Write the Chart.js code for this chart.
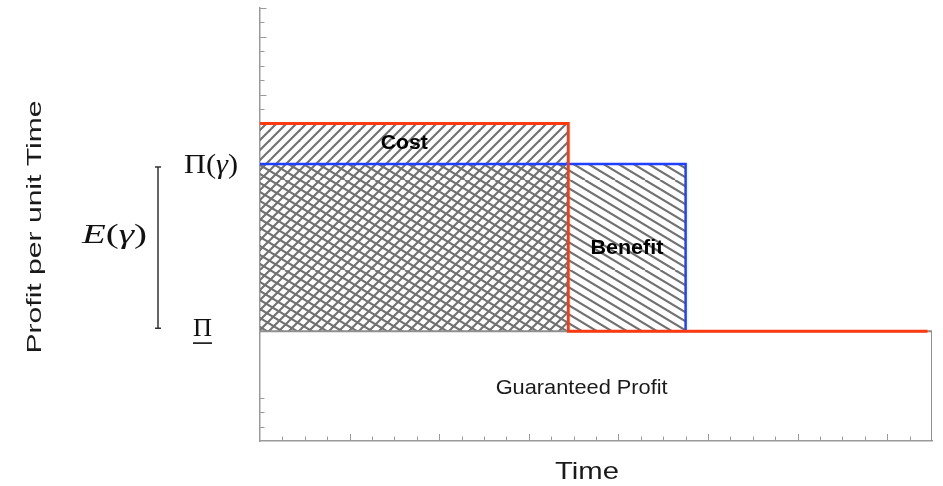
<!DOCTYPE html>
<html lang="en">
<head>
<meta charset="UTF-8">
<title>Cost and benefit</title>
<script src="https://cdn.jsdelivr.net/npm/chart.js"></script>
<style>
  html, body { margin: 0; padding: 0; background: #fff; }
  canvas { display: block; }
</style>
</head>
<body>
<canvas id="grafico" width="943" height="486"></canvas>

<script>
// step lines, x in time units (0..7.5), y in profit units (0..7.5)
var redX = [0, 3.44, 3.44, 7.45];
var redY = [5.5, 5.5, 1.9, 1.9];
var blueX = [0, 4.75, 4.75];
var blueY = [4.8, 4.8, 1.9];
var boxX = [0, 7.5, 7.5];
var boxY = [1.9, 1.9, 0];

// levels used by the hatched areas and labels
var costTop = 5.5;      // red level
var piGamma = 4.8;      // Π(γ)
var piFloor = 1.9;      // Π
var redDrop = 3.44;
var blueDrop = 4.75;
var guaranteedX = 3.59;
var costLabelX = 1.61;

var axisMax = 7.5;
// y ticks that show (the rest sit under the hatching / box)
var yTicksShown = [0.25, 0.5, 0.75, 5.75, 6, 6.25, 6.5, 6.75, 7, 7.25, 7.5];

function pts(xs, ys) {
    var out = [];
    for (var i = 0; i < xs.length; i++) out.push({ x: xs[i], y: ys[i] });
    return out;
}

// hatch tile w x h: families of parallel lines {p: horizontal period, s: slope, up: rising?}
function hatch(families, w, h) {
    var c = document.createElement('canvas');
    c.width = w; c.height = h;
    var g = c.getContext('2d');
    g.strokeStyle = '#717171';
    g.lineWidth = 2.1;
    families.forEach(function (f) {
        var run = h / f.s;
        for (var k = -40; k <= 40; k++) {
            var x0 = k * f.p;
            g.beginPath();
            if (f.up) {
                g.moveTo(x0, h);
                g.lineTo(x0 + run, 0);
            } else {
                g.moveTo(x0, 0);
                g.lineTo(x0 + run, h);
            }
            g.stroke();
        }
    });
    return g.createPattern(c, 'repeat');
}

var ctx = document.getElementById('grafico').getContext('2d');
var slash = { p: 10, s: 1, up: true };
var back = { p: 15, s: 0.6, up: false };
var padraoCusto = hatch([slash], 30, 90);
var padraoBeneficio = hatch([back], 30, 90);
var padraoCruzado = hatch([slash, back], 30, 90);

function drawFitted(c, segs, cx, baseline, targetW) {
    var total = 0;
    segs.forEach(function (s) { c.font = s.f; s.w = c.measureText(s.t).width; total += s.w; });
    var k = targetW ? targetW / total : 1;
    c.save();
    c.translate(cx, baseline);
    c.scale(k, 1);
    var x = -total / 2;
    segs.forEach(function (s) { c.font = s.f; c.fillText(s.t, x, 0); x += s.w; });
    c.restore();
}

var ticksPlugin = {
    id: 'ticksInside',
    afterDraw: function (chart) {
        var c = chart.ctx, xs = chart.scales.x, ys = chart.scales.y;
        var area = chart.chartArea;
        c.save();
        c.strokeStyle = '#9a9a9a';
        c.lineWidth = 1;
        xs.ticks.forEach(function (t) {
            if (t.value <= 0 || t.value >= axisMax) return;
            var px = Math.round(xs.getPixelForValue(t.value)) + 0.5;
            var len = (t.value % 1 === 0) ? 7 : 4.5;
            c.beginPath();
            c.moveTo(px, area.bottom);
            c.lineTo(px, area.bottom - len);
            c.stroke();
        });
        ys.ticks.forEach(function (t) {
            if (yTicksShown.indexOf(t.value) < 0) return;
            var py = Math.round(ys.getPixelForValue(t.value)) + 0.5;
            var len = (t.value % 1 === 0 || t.value === axisMax) ? 6.5 : 4.5;
            c.beginPath();
            c.moveTo(area.left, py);
            c.lineTo(area.left + len, py);
            c.stroke();
        });
        c.restore();
    }
};

var textPlugin = {
    id: 'labels',
    afterDraw: function (chart) {
        var c = chart.ctx, xs = chart.scales.x, ys = chart.scales.y;
        var sans = '"Liberation Sans", Arial, sans-serif';
        var serif = '"Liberation Serif", "DejaVu Serif", serif';
        c.save();
        c.textBaseline = 'alphabetic';

        // region labels
        c.fillStyle = '#000';
        var yCost = (ys.getPixelForValue(costTop) + ys.getPixelForValue(piGamma)) / 2;
        drawFitted(c, [{ t: 'Cost', f: 'bold 20px ' + sans }], xs.getPixelForValue(costLabelX), yCost + 5.5, 47);
        var yBen = (ys.getPixelForValue(piGamma) + ys.getPixelForValue(piFloor)) / 2;
        drawFitted(c, [{ t: 'Benefit', f: 'bold 21px ' + sans }], xs.getPixelForValue((redDrop + blueDrop) / 2), yBen + 6.5, 73);
        c.fillStyle = '#1a1a1a';
        var yGar = (ys.getPixelForValue(piFloor) + ys.getPixelForValue(0)) / 2;
        drawFitted(c, [{ t: 'Guaranteed Profit', f: '21px ' + sans }], xs.getPixelForValue(guaranteedX), yGar + 7.5, 172);

        // axis titles
        drawFitted(c, [{ t: 'Time', f: '24px ' + sans }], 587, 479, 64);
        c.save();
        c.translate(41, 227);
        c.rotate(-Math.PI / 2);
        drawFitted(c, [{ t: 'Profit per unit Time', f: '20px ' + sans }], 0, 0, 253);
        c.restore();

        // level labels
        c.fillStyle = '#111';
        var yG = ys.getPixelForValue(piGamma);
        var yF = ys.getPixelForValue(piFloor);
        drawFitted(c, [
            { t: 'Π(', f: '27px ' + serif },
            { t: 'γ', f: 'italic 27px ' + serif },
            { t: ')', f: '27px ' + serif }
        ], 211, yG + 9, 54);
        drawFitted(c, [{ t: 'Π', f: '25px ' + serif }], 202.5, yF + 5, 19);
        c.fillRect(193, yF + 11, 19, 1.6);
        drawFitted(c, [
            { t: 'E', f: 'italic 27px ' + serif },
            { t: '(', f: '27px ' + serif },
            { t: 'γ', f: 'italic 27px ' + serif },
            { t: ')', f: '27px ' + serif }
        ], 114.5, 243, 65);

        // E(γ) bracket
        c.strokeStyle = '#333';
        c.lineWidth = 1.5;
        c.beginPath();
        c.moveTo(158, yG + 3);
        c.lineTo(158, yF - 3);
        c.moveTo(155, yG + 3);
        c.lineTo(161, yG + 3);
        c.moveTo(155, yF - 3);
        c.lineTo(161, yF - 3);
        c.stroke();
        c.restore();
    }
};

var dados = {
    datasets: [
        {
            label: 'red',
            data: pts(redX, redY),
            borderColor: '#fb3a12',
            borderWidth: 3,
            fill: false,
            order: 0
        },
        {
            label: 'blue',
            data: pts(blueX, blueY),
            borderColor: '#2040ff',
            borderWidth: 2.5,
            fill: false,
            order: 1
        },
        {
            label: 'box',
            data: pts(boxX, boxY),
            borderColor: '#8f8f8f',
            borderWidth: 2,
            fill: false,
            order: 2
        },
        {
            label: 'benefit',
            data: pts([redDrop, blueDrop], [piGamma, piGamma]),
            borderWidth: 0,
            backgroundColor: padraoBeneficio,
            fill: { value: piFloor },
            order: 3
        },
        {
            label: 'cost',
            data: pts([0, redDrop], [costTop, costTop]),
            borderWidth: 0,
            backgroundColor: padraoCusto,
            fill: { value: piGamma },
            order: 4
        },
        {
            label: 'overlap',
            data: pts([0, redDrop], [piGamma, piGamma]),
            borderWidth: 0,
            backgroundColor: padraoCruzado,
            fill: { value: piFloor },
            order: 5
        }
    ]
};

var config = {
    type: 'line',
    data: dados,
    options: {
        responsive: false,
        animation: false,
        layout: { padding: { left: 260, right: 11, top: 8, bottom: 45 } },
        elements: { point: { radius: 0 }, line: { tension: 0 } },
        plugins: { legend: { display: false }, tooltip: { enabled: false } },
        scales: {
            x: {
                type: 'linear', min: 0, max: axisMax,
                ticks: { display: false, stepSize: 0.25 },
                grid: { display: false, drawTicks: false },
                border: { display: true, color: '#9a9a9a', width: 1.5 }
            },
            y: {
                type: 'linear', min: 0, max: axisMax,
                ticks: { display: false, stepSize: 0.25 },
                grid: { display: false, drawTicks: false },
                border: { display: true, color: '#9a9a9a', width: 1.5 }
            }
        }
    },
    plugins: [ticksPlugin, textPlugin]
};

var myChart = new Chart(ctx, config);
</script>
</body>
</html>
